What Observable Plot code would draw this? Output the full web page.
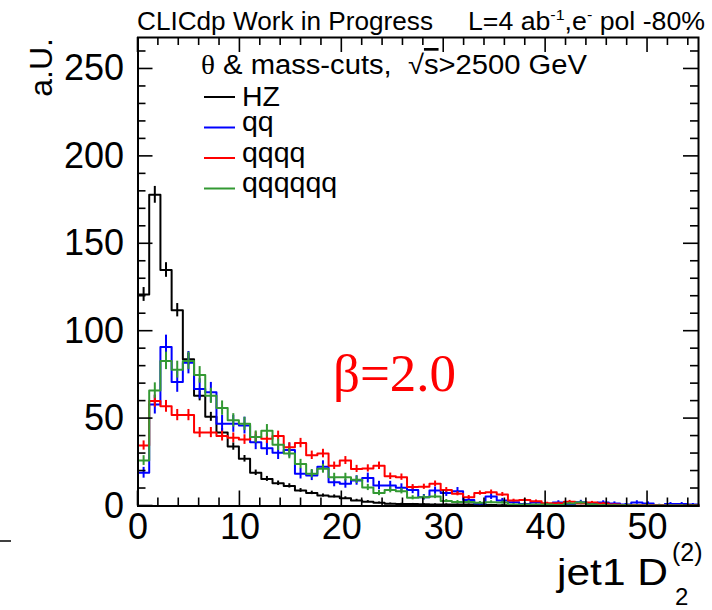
<!DOCTYPE html>
<html><head><meta charset="utf-8">
<script src="https://cdn.jsdelivr.net/npm/d3@7"></script>
<script src="https://cdn.jsdelivr.net/npm/@observablehq/plot@0.6"></script>
<style>body{margin:0;background:#fff}svg{display:block}</style>
</head><body><div id="chart"></div>
<script>
// histogram binning: 50 bins over [0, 55]
const binLow = 0, binHigh = 55, nBins = 50;

// bin contents
const hz = [121,178,135,112,84,63,51,42,34,27,19,15.5,13,11.5,8.9,7.5,6,5.5,4.5,3.2,2.5,1.8,1.3,1.2,1.1,1,0.9,0.9,0.8,0.8,0.7,0.6,0.5,0.5,0.4,0.4,0.3,0.3,0.3,0.2,0.2,0.2,0.1,0.1,0.1,0.1,0.1,0.1,0,0];
const qq = [19,58,91,71,82,67,65,47,47,46,36.5,33,30.5,32,18.5,17.5,22.5,13.6,12.7,14.6,16,11.7,11.7,10.4,9.2,5,8.8,7.4,8.5,3.5,1.5,5.4,3.1,2.2,1.2,2,1,2,1.2,2.2,1.6,2,1.5,0.8,2,1.5,0.5,1.2,1.2,0.8];
const qqqq = [34.6,60,57,52,52,42,42,40,39,38,39.5,38.5,40,33.6,36,29,30,23,26,21.2,21.5,23,17,16.5,10.8,11,12.7,9.2,7,5,7.4,7.9,6.6,3.1,3.5,2.7,1.6,1.6,2.5,1.6,2,1.5,0.8,0.5,0.5,0.4,0.4,0.3,0.3,0.5];
const qqqqqq = [26,66,83,78,83,75,63,56,49,47,39.5,43,35,30,24,18.5,21.3,16.5,16.5,15,10.6,7.4,9.2,8.5,4.7,5,5.5,2.8,2.3,2.3,1.8,2.2,2,0.8,0.8,0.8,0.8,0.6,1.5,2,0.8,0.5,0.4,0.4,0.3,0.3,0.3,0.3,0.3,0.3];

const seriesNames = ["HZ", "qq", "qqqq", "qqqqqq"];
const seriesColors = ["#000000", "#0000ff", "#ff0000", "#339933"];
// per-sample event weight (statistical error = sqrt(content * weight))
const sampleWeights = [0.13, 0.5, 0.2, 0.3];

const xMajorTicks = [0, 10, 20, 30, 40, 50];
const yMajorTicks = [0, 50, 100, 150, 200, 250];
const xMinorStep = 2, yMinorStep = 10;

const allSeries = [hz, qq, qqqq, qqqqqq];
const binW = (binHigh - binLow) / nBins;

const stepData = [], errData = [];
allSeries.forEach((vals, k) => {
  const s = seriesNames[k];
  stepData.push({x: binLow, y: 0, s});
  vals.forEach((v, i) => stepData.push({x: binLow + i * binW, y: v, s}));
  stepData.push({x: binHigh, y: vals[vals.length - 1], s});
  stepData.push({x: binHigh, y: 0, s});
  vals.forEach((v, i) => {
    if (v > 0) {
      const e = Math.sqrt(v * sampleWeights[k]);
      errData.push({x: binLow + (i + 0.5) * binW, y1: Math.max(0, v - e), y2: v + e, s});
    }
  });
});

const marks = [];
seriesNames.forEach((s, k) => {
  marks.push(Plot.ruleX(errData.filter(d => d.s === s), {x: "x", y1: "y1", y2: "y2", stroke: seriesColors[k], strokeWidth: 2}));
  marks.push(Plot.line(stepData.filter(d => d.s === s), {x: "x", y: "y", curve: "step-after", stroke: seriesColors[k], strokeWidth: 2}));
});
marks.push(Plot.frame({stroke: "black", strokeWidth: 2}));
marks.push(Plot.axisX({ticks: xMajorTicks, tickSize: 0, tickPadding: 7, label: null, fontSize: 36}));
marks.push(Plot.axisY({ticks: yMajorTicks, tickSize: 0, tickPadding: 14, label: null, fontSize: 36}));

const plot = Plot.plot({
  width: 712, height: 610,
  marginLeft: 137.5, marginRight: 14, marginTop: 37, marginBottom: 104.5,
  x: {domain: [binLow, binHigh]},
  y: {domain: [0, 268]},
  style: {fontFamily: "'Liberation Sans', Arial, sans-serif", fontSize: "36px", color: "black", background: "white"},
  marks
});
document.getElementById("chart").appendChild(plot);

// ROOT-style inward ticks on all four sides, via the plot's scales
const svg = d3.select(plot);
const xs = plot.scale("x"), ys = plot.scale("y");
const X = v => xs.apply(v), Y = v => ys.apply(v);
const x0 = X(binLow), x1 = X(binHigh), y0 = Y(0), y1 = Y(268);
const tg = svg.append("g").attr("stroke", "black").attr("stroke-width", 1.6);
for (let v = binLow; v <= binHigh + 1e-9; v += xMinorStep) {
  const len = xMajorTicks.includes(v) ? 15 : 8;
  tg.append("line").attr("x1", X(v)).attr("x2", X(v)).attr("y1", y0).attr("y2", y0 - len);
  tg.append("line").attr("x1", X(v)).attr("x2", X(v)).attr("y1", y1).attr("y2", y1 + len);
}
for (let v = 0; v <= 268; v += yMinorStep) {
  const len = yMajorTicks.includes(v) ? 15 : 8;
  tg.append("line").attr("y1", Y(v)).attr("y2", Y(v)).attr("x1", x0).attr("x2", x0 + len);
  tg.append("line").attr("y1", Y(v)).attr("y2", Y(v)).attr("x1", x1).attr("x2", x1 - len);
}

const sans = "'Liberation Sans', Arial, sans-serif";
const serif = "'Liberation Serif', 'Times New Roman', serif";
function txt(x, y, size, anchor, fam) {
  return svg.append("text").attr("x", x).attr("y", y).attr("font-size", size)
    .attr("font-family", fam || sans).attr("text-anchor", anchor || "start").attr("fill", "black");
}

// header
txt(137, 30, 25).attr("textLength", 296).attr("lengthAdjust", "spacingAndGlyphs").text("CLICdp Work in Progress");
const hr = txt(468, 30, 25).attr("textLength", 237).attr("lengthAdjust", "spacingAndGlyphs");
hr.append("tspan").text("L=4 ab");
hr.append("tspan").attr("font-size", 15).attr("dy", -10).text("-1");
hr.append("tspan").attr("dy", 10).text(",e");
hr.append("tspan").attr("font-size", 15).attr("dy", -10).text("-");
hr.append("tspan").attr("dy", 10).text(" pol -80%");

// legend header
const lh = txt(201, 74, 27).attr("textLength", 386).attr("lengthAdjust", "spacingAndGlyphs");
lh.append("tspan").attr("font-family", serif).text("θ");
lh.append("tspan").text(" & mass-cuts,  ");
lh.append("tspan").text("√");
lh.append("tspan").attr("style", "text-decoration: overline").text("s");
lh.append("tspan").text(">2500 GeV");

// legend entries
const legY = [97, 127.5, 158, 188.5];
const legDy = [8.5, 3.5, 3.5, 3.5];
seriesNames.forEach((s, k) => {
  svg.append("line").attr("x1", 204).attr("x2", 235).attr("y1", legY[k]).attr("y2", legY[k])
    .attr("stroke", seriesColors[k]).attr("stroke-width", 2);
  txt(242, legY[k] + legDy[k], 28.5).text(s);
});

// beta label
txt(333, 391, 53, "start", serif).attr("fill", "#ff0000").text("β=2.0");

// y title
svg.append("text").attr("transform", "translate(52,38) rotate(-90)").attr("text-anchor", "end")
  .attr("font-family", sans).attr("font-size", 32).attr("fill", "black").text("a.U.");

// x title
txt(557, 585, 36).attr("textLength", 111).attr("lengthAdjust", "spacingAndGlyphs").text("jet1 D");
txt(672, 561, 25).text("(2)");
txt(675, 605, 24).text("2");

// stray dash at left edge
svg.append("line").attr("x1", 0).attr("x2", 11).attr("y1", 541).attr("y2", 541).attr("stroke", "black").attr("stroke-width", 1.5);
</script></body></html>
